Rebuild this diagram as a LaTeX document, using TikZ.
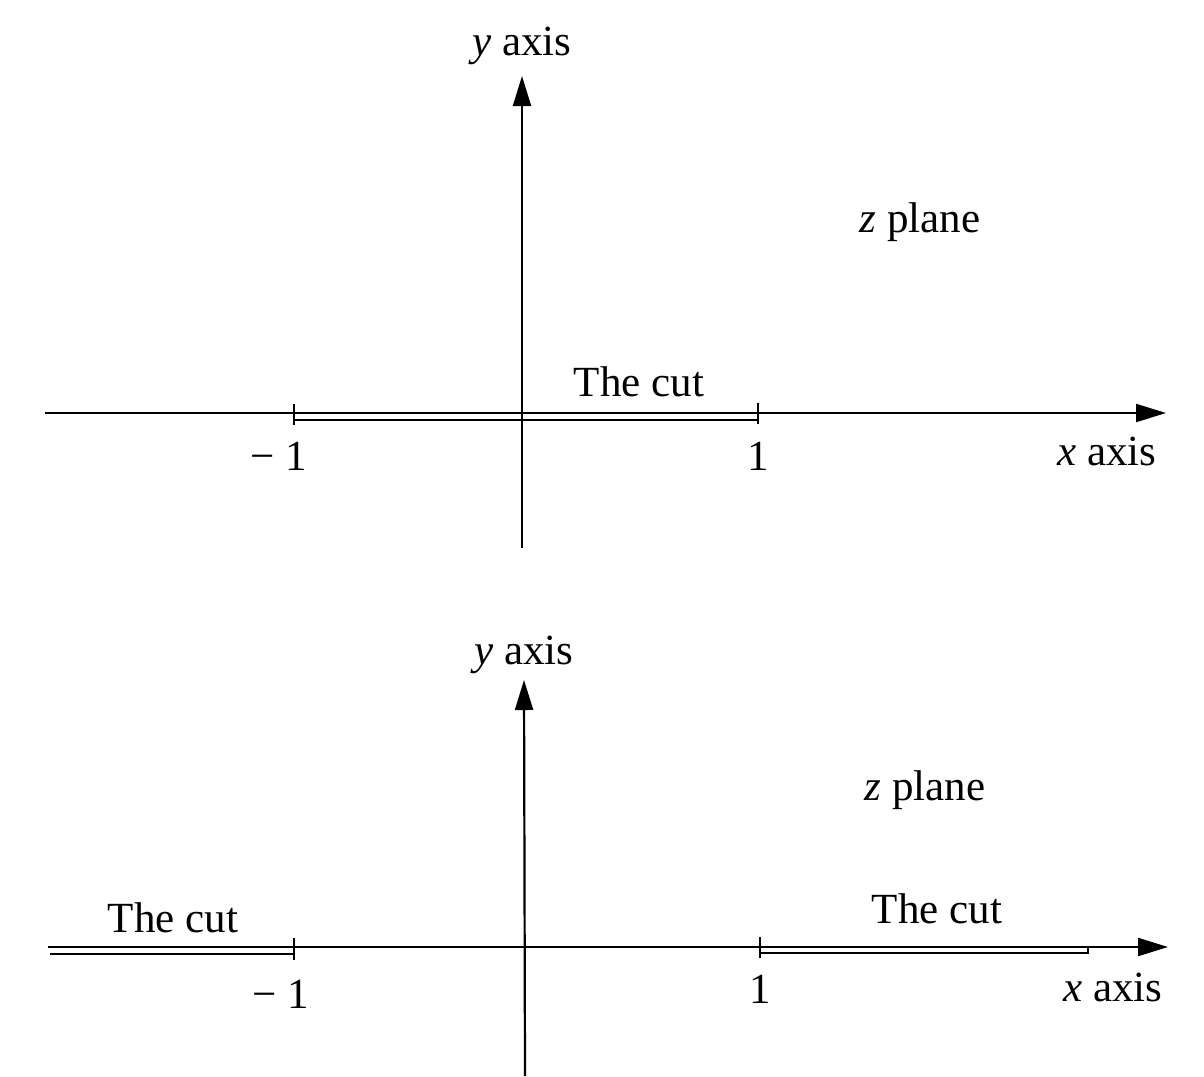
\documentclass[tikz,border=0pt]{standalone}
\usepackage{fontspec}
\setmainfont{Liberation Serif}
\usetikzlibrary{arrows.meta}
\begin{document}
\begin{tikzpicture}[x=1pt,y=-1pt,
  axisline/.style={line width=2.2pt,-{Triangle[length=30pt,width=18pt]}},
  cutbox/.style={line width=2.8pt},
  tickmark/.style={line width=2.2pt},
  lbl/.style={font=\fontsize{43}{50}\selectfont, inner sep=0pt}]
\useasboundingbox (0,0) rectangle (1204,1076);
% ---------- top picture ----------
\coordinate (tyb) at (522,548);
\coordinate (tyt) at (522,76);
\coordinate (txl) at (45,413);
\coordinate (txr) at (1166,413);
\draw[axisline] (tyb) -- (tyt);
\draw[axisline] (txl) -- (txr);
\coordinate (tc1) at (294,413);
\coordinate (tc2) at (758,420);
\draw[cutbox] (tc1) rectangle (tc2);
\draw[tickmark] (294,404) -- (294,425);
\draw[tickmark] (758,403) -- (758,424);
\node[lbl] (tylab) at (522,46) {\textit{y} axis};
\node[lbl] (tzp) at (920,222) {\textit{z} plane};
\node[lbl] (tcut) at (639,382) {The cut};
\node[lbl] (tm1) at (279,456) {− 1};
\node[lbl] (tp1) at (758,456) {1};
\node[lbl] (txlab) at (1107,451) {\textit{x} axis};
% ---------- bottom picture ----------
\coordinate (byb) at (525,1076);
\coordinate (byt) at (524,680);
\coordinate (bxl) at (48,947);
\coordinate (bxr) at (1168,947);
\draw[axisline] (byb) -- (byt);
\draw[axisline] (bxl) -- (bxr);
\coordinate (lc1) at (50,947);
\coordinate (lc2) at (294,954);
\draw[cutbox] (lc1) -- (lc2 |- lc1) (lc1 |- lc2) -- (lc2);
\draw[tickmark] (294,938) -- (294,960);
\coordinate (rc1) at (760,947);
\coordinate (rc2) at (1088,953);
\draw[cutbox] (rc1) rectangle (rc2);
\draw[tickmark] (760,937) -- (760,958);
\node[lbl] (bylab) at (524,655) {\textit{y} axis};
\node[lbl] (bzp) at (925,790) {\textit{z} plane};
\node[lbl] (bcutl) at (173,918) {The cut};
\node[lbl] (bcutr) at (937,909) {The cut};
\node[lbl] (bm1) at (281,994) {− 1};
\node[lbl] (bp1) at (760,989) {1};
\node[lbl] (bxlab) at (1113,987) {\textit{x} axis};
\end{tikzpicture}
\end{document}
